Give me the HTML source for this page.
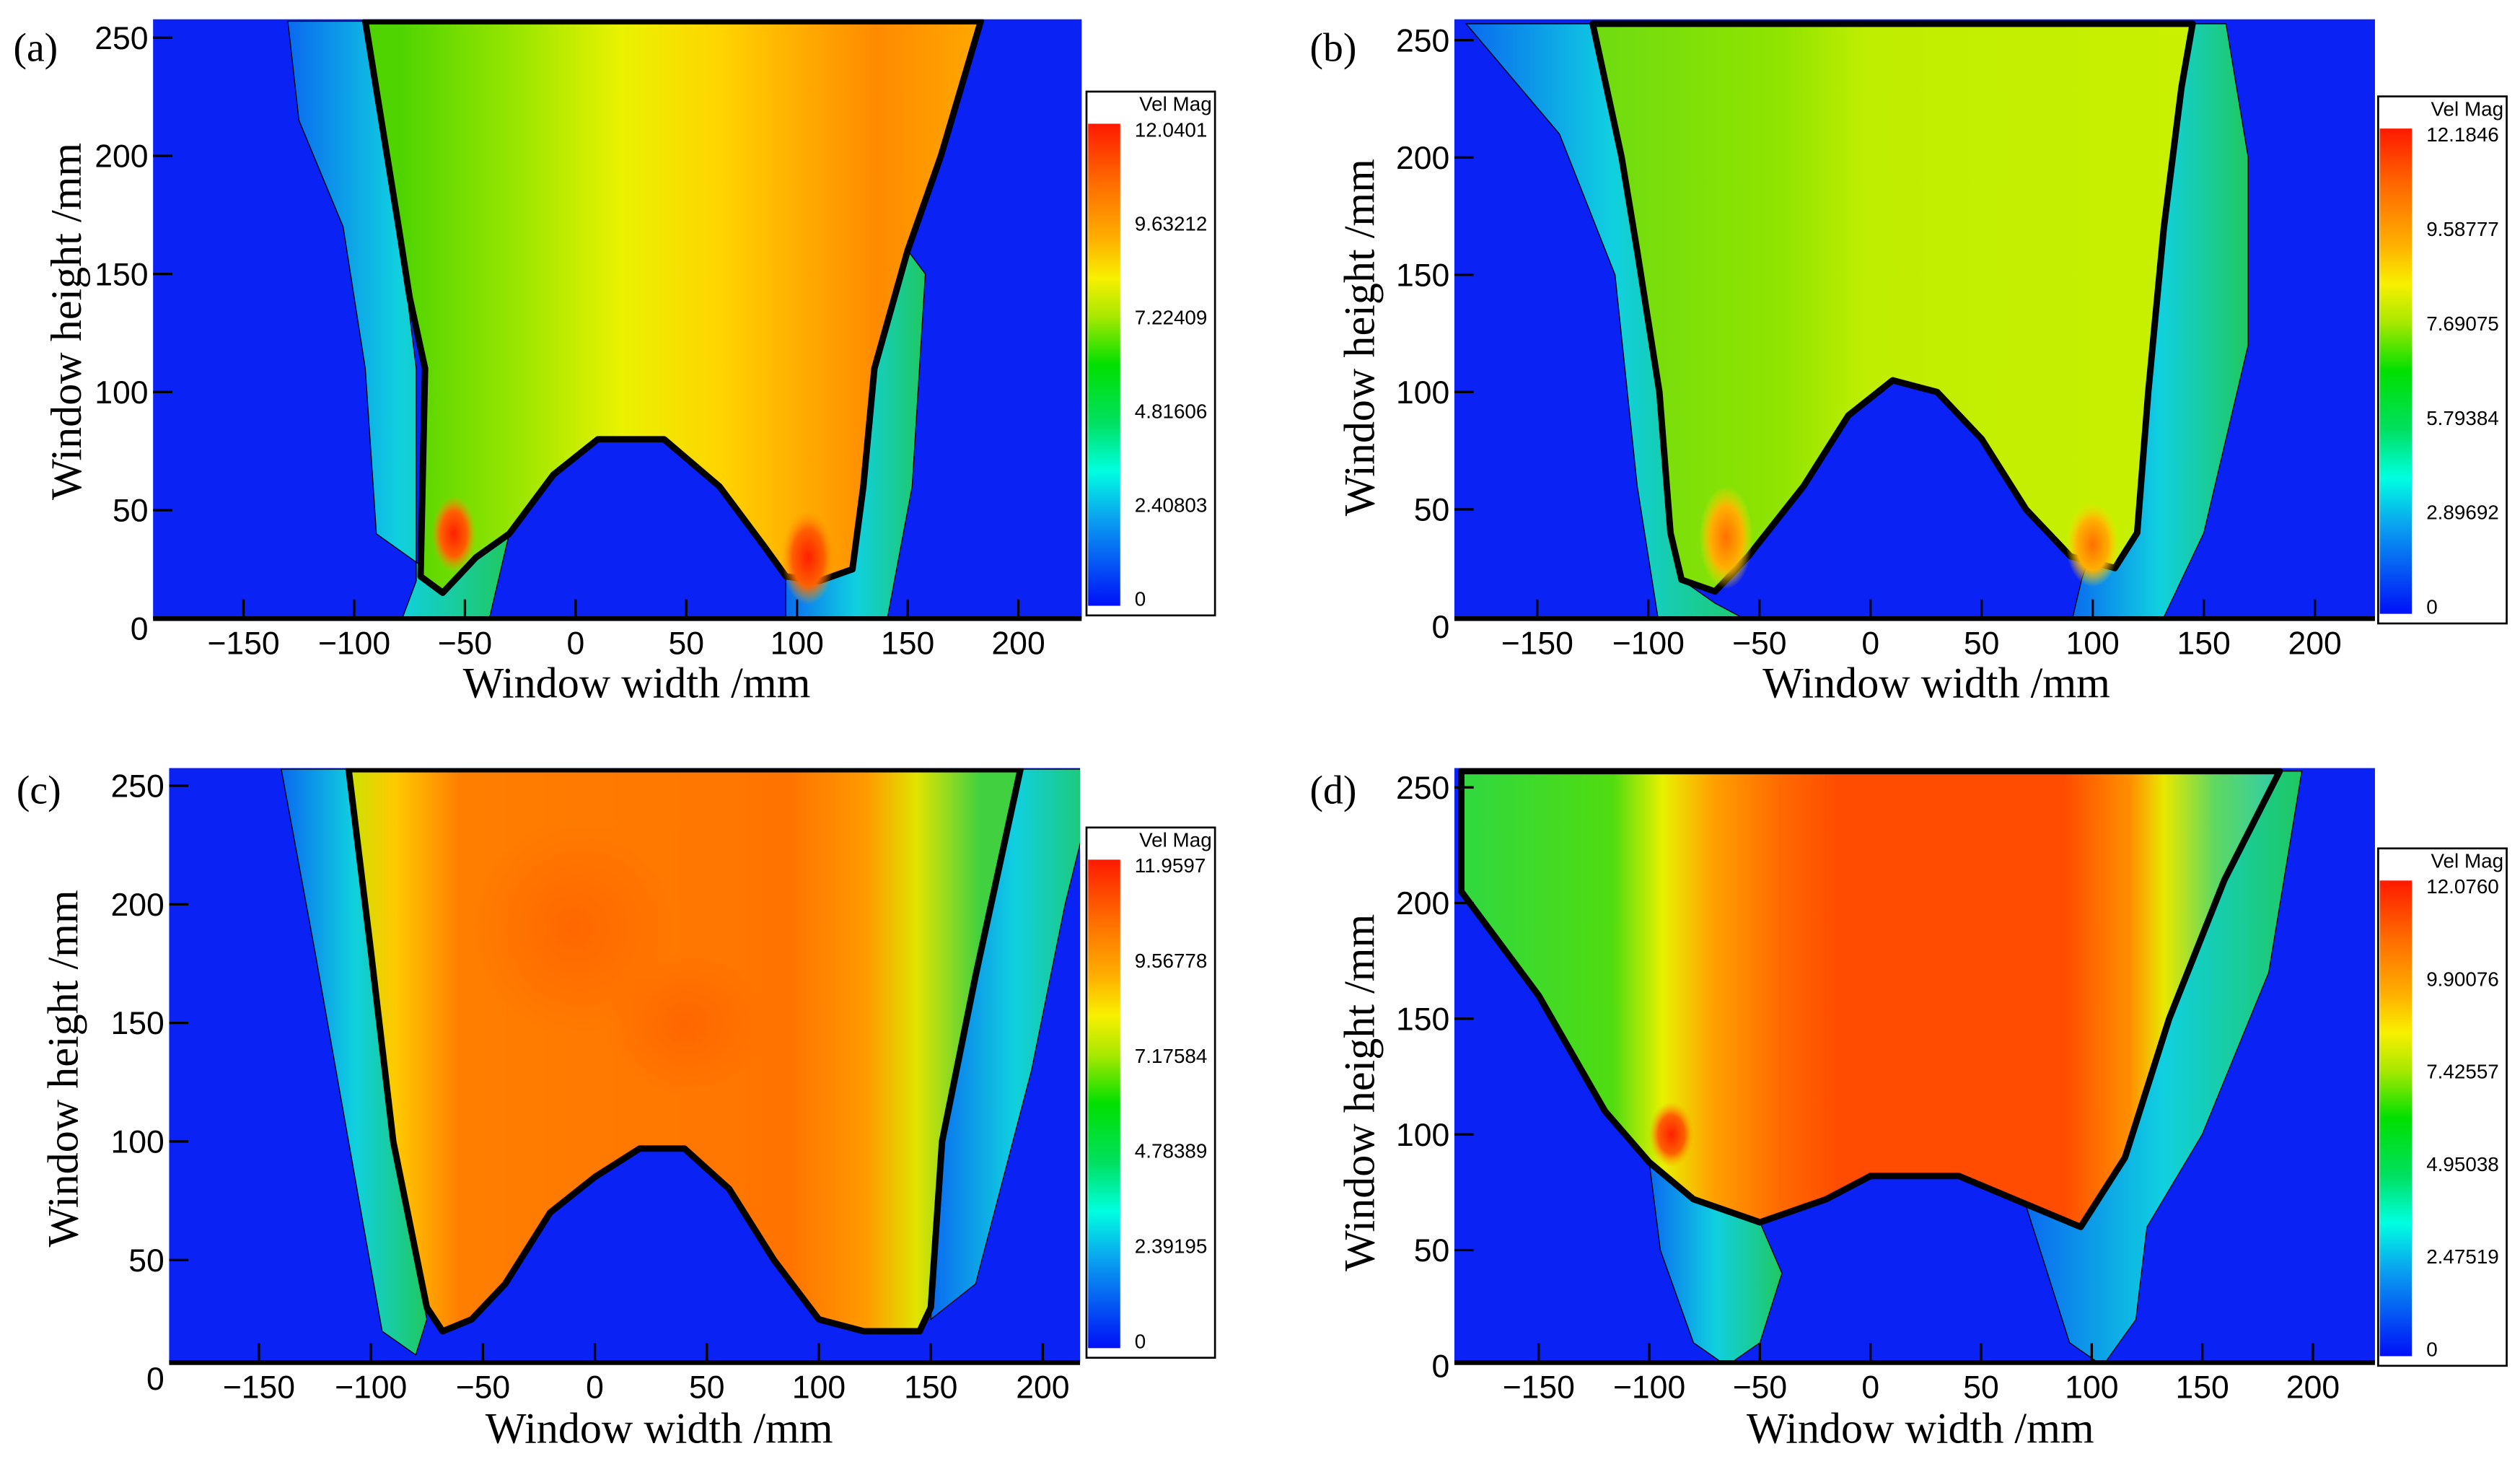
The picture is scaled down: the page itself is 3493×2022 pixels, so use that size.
<!DOCTYPE html>
<html><head><meta charset="utf-8">
<style>
html,body{margin:0;padding:0;background:#fff;}
svg{display:block;}
.tk{font-family:"Liberation Sans",sans-serif;font-size:20px;fill:#000;}
.ax{font-family:"Liberation Serif",serif;font-size:27px;fill:#000;}
.pl{font-family:"Liberation Serif",serif;font-size:25px;fill:#000;}
.cb{font-family:"Liberation Sans",sans-serif;font-size:12.5px;fill:#000;}
</style></head>
<body>
<svg id="fig" width="3493" height="2022" viewBox="0 0 1568 908" xmlns="http://www.w3.org/2000/svg">
<defs>
<linearGradient id="cbg" x1="0" y1="0" x2="0" y2="1">
<stop offset="0" stop-color="#ff1a00"/><stop offset="0.12" stop-color="#ff6a00"/><stop offset="0.24" stop-color="#ffb000"/>
<stop offset="0.32" stop-color="#f8f000"/><stop offset="0.4" stop-color="#a8e800"/><stop offset="0.5" stop-color="#00e000"/>
<stop offset="0.62" stop-color="#00e060"/><stop offset="0.72" stop-color="#00ffe0"/><stop offset="0.82" stop-color="#0aa0f0"/>
<stop offset="1" stop-color="#0010f8"/></linearGradient>
<linearGradient id="ga" gradientUnits="userSpaceOnUse" x1="250" y1="0" x2="610" y2="0">
<stop offset="0" stop-color="#50d400"/><stop offset="0.2" stop-color="#9ae600"/><stop offset="0.38" stop-color="#eaf200"/>
<stop offset="0.55" stop-color="#ffd400"/><stop offset="0.7" stop-color="#ffaa00"/><stop offset="0.82" stop-color="#ff8a00"/><stop offset="1" stop-color="#ffa800"/></linearGradient>
<linearGradient id="gb" gradientUnits="userSpaceOnUse" x1="1000" y1="0" x2="1360" y2="0">
<stop offset="0" stop-color="#70dc10"/><stop offset="0.3" stop-color="#90e400"/><stop offset="0.45" stop-color="#c0ee00"/><stop offset="1" stop-color="#c8f000"/></linearGradient>
<linearGradient id="gc" gradientUnits="userSpaceOnUse" x1="215" y1="0" x2="610" y2="0">
<stop offset="0" stop-color="#c8e400"/><stop offset="0.08" stop-color="#ffc800"/><stop offset="0.18" stop-color="#ff7e00"/>
<stop offset="0.7" stop-color="#ff7400"/><stop offset="0.82" stop-color="#ff9a00"/><stop offset="0.9" stop-color="#e0e400"/><stop offset="1" stop-color="#40d040"/></linearGradient>
<linearGradient id="gd" gradientUnits="userSpaceOnUse" x1="910" y1="0" x2="1430" y2="0">
<stop offset="0" stop-color="#30d840"/><stop offset="0.18" stop-color="#50dc10"/><stop offset="0.24" stop-color="#e8f000"/>
<stop offset="0.3" stop-color="#ffa000"/><stop offset="0.38" stop-color="#ff6a00"/><stop offset="0.45" stop-color="#ff4c00"/>
<stop offset="0.72" stop-color="#ff4c00"/><stop offset="0.8" stop-color="#ff9000"/><stop offset="0.84" stop-color="#e8e800"/>
<stop offset="0.9" stop-color="#60d860"/><stop offset="1" stop-color="#20c8c0"/></linearGradient>
<linearGradient id="halo" gradientUnits="objectBoundingBox" x1="0" y1="0" x2="1" y2="0">
<stop offset="0" stop-color="#0a6af0"/><stop offset="0.5" stop-color="#10d0e0"/><stop offset="1" stop-color="#20c860"/></linearGradient>
<radialGradient id="redb"><stop offset="0" stop-color="#ff2000"/><stop offset="0.6" stop-color="#ff6000"/><stop offset="1" stop-color="#ff9a00" stop-opacity="0"/></radialGradient>
<radialGradient id="orb"><stop offset="0" stop-color="#ff7000"/><stop offset="0.6" stop-color="#ffb000"/><stop offset="1" stop-color="#ffe000" stop-opacity="0"/></radialGradient>
<radialGradient id="softr"><stop offset="0" stop-color="#ff5a00" stop-opacity="0.6"/><stop offset="1" stop-color="#ff5a00" stop-opacity="0"/></radialGradient>
</defs>
<g id="root"></g>
</svg>
<script>
// ---- data ----
const xTicks = [-150,-100,-50,0,50,100,150,200];
const yTicks = [0,50,100,150,200,250];
const panelLabels = ["(a)","(b)","(c)","(d)"];
const cbTicksA = ["12.0401","9.63212","7.22409","4.81606","2.40803","0"];
const cbTicksB = ["12.1846","9.58777","7.69075","5.79384","2.89692","0"];
const cbTicksC = ["11.9597","9.56778","7.17584","4.78389","2.39195","0"];
const cbTicksD = ["12.0760","9.90076","7.42557","4.95038","2.47519","0"];
const jetA = [[-95,257],[-80,170],[-75,140],[-68,110],[-70,22],[-60,15],[-45,30],[-30,40],[-10,65],[10,80],[40,80],[65,60],[85,35],[95,22],[110,20],[125,25],[130,60],[135,110],[150,160],[165,200],[183,257]];
const haloA = [[-130,257],[-95,257],[-80,170],[-72,110],[-72,20],[-80,0],[-40,0],[-30,40],[-60,20],[-90,40],[-95,110],[-105,170],[-125,215]];
const haloA2 = [[95,22],[110,20],[125,25],[130,60],[135,110],[150,160],[158,150],[152,60],[140,0],[95,0]];
const jetB = [[-125,257],[-112,200],[-105,160],[-95,100],[-90,40],[-85,20],[-70,15],[-55,30],[-30,60],[-10,90],[10,105],[30,100],[50,80],[70,50],[90,30],[110,25],[120,40],[125,100],[132,170],[140,230],[145,257]];
const haloB = [[-182,257],[-125,257],[-112,200],[-105,160],[-95,100],[-90,40],[-85,20],[-70,10],[-50,0],[-95,0],[-105,60],[-115,150],[-140,210]];
const haloB2 = [[125,100],[132,170],[140,230],[145,257],[160,257],[170,200],[170,120],[150,40],[130,0],[90,0],[95,20]];
const jetC = [[-110,257],[-100,180],[-90,100],[-75,30],[-68,20],[-55,25],[-40,40],[-20,70],[0,85],[20,97],[40,97],[60,80],[80,50],[100,25],[120,20],[145,20],[150,30],[155,100],[170,170],[190,257]];
const haloC = [[-140,257],[-110,257],[-100,180],[-90,100],[-75,25],[-80,10],[-95,20],[-110,100],[-125,180]];
const haloC2 = [[190,257],[225,257],[210,200],[195,130],[170,40],[150,25],[155,100],[170,170]];
const jetD = [[-185,257],[-185,205],[-150,160],[-120,110],[-100,88],[-80,72],[-50,62],[-20,72],[0,82],[40,82],[70,70],[95,60],[115,90],[135,150],[160,210],[185,257]];
const haloD = [[-100,88],[-80,72],[-50,62],[-40,40],[-50,10],[-65,0],[-80,10],[-95,50]];
const haloD2 = [[70,70],[95,60],[115,90],[135,150],[160,210],[185,257],[195,257],[180,170],[150,100],[125,60],[120,20],[105,0],[90,10],[80,40]];
const blobsA = [[-55,40,10,16],[105,30,12,20]];
const blobsB = [[-65,38,12,22],[100,35,12,18]];
const blobsC = [[-10,190,45,45],[40,150,35,30]];
const blobsD = [[-90,100,10,14]];
// ---- layout ----
const panels = [
 {rect:[95,12,578,373], x0:358, sx:1.378, y0:391, sy:1.47, grad:"ga", jet:jetA, halos:[haloA,haloA2], blobs:blobsA, blob:"redb", cb:[676,57,80,326], cbt:cbTicksA, lab:[8,38], ylab:[50,200], xlab:[396,434]},
 {rect:[905,12,573,373], x0:1164, sx:1.383, y0:390, sy:1.46, grad:"gb", jet:jetB, halos:[haloB,haloB2], blobs:blobsB, blob:"orb", cb:[1480,60,80,328], cbt:cbTicksB, lab:[815,38], ylab:[855,210], xlab:[1205,434]},
 {rect:[105,478,567,370], x0:370, sx:1.394, y0:858, sy:1.476, grad:"gc", jet:jetC, halos:[haloC,haloC2], blobs:blobsC, blob:"softr", cb:[676,515,80,330], cbt:cbTicksC, lab:[10,500], ylab:[48,665], xlab:[410,898]},
 {rect:[905,478,573,370], x0:1164, sx:1.377, y0:850, sy:1.44, grad:"gd", jet:jetD, halos:[haloD,haloD2], blobs:blobsD, blob:"redb", cb:[1480,528,80,322], cbt:cbTicksD, lab:[815,500], ylab:[855,680], xlab:[1195,898]}
];
const NS="http://www.w3.org/2000/svg";
const root=document.getElementById('root');
function mk(tag,attrs,parent){const e=document.createElementNS(NS,tag);for(const k in attrs)e.setAttribute(k,attrs[k]);(parent||root).appendChild(e);return e;}
panels.forEach((p,i)=>{
 const X=v=>p.x0+v*p.sx, Y=v=>p.y0-v*p.sy;
 const g=mk('g',{});
 
 
 const cid='clip'+i;
 const cp=mk('clipPath',{id:cid},g);mk('rect',{x:p.rect[0],y:p.rect[1],width:p.rect[2],height:p.rect[3]},cp);
 const bg=mk('rect',{x:p.rect[0],y:p.rect[1],width:p.rect[2],height:p.rect[3],fill:'#0b22f4'},g);
 
 
 const pg=mk('g',{'clip-path':'url(#'+cid+')'},g);
 const pts=a=>a.map(q=>X(q[0]).toFixed(1)+','+Y(q[1]).toFixed(1)).join(' ');
 p.halos.forEach(h=>{const e=mk('polygon',{points:pts(h),fill:'url(#halo)',stroke:'#000','stroke-width':0.6},pg);
  
  });
 const jet=mk('polygon',{points:pts(p.jet),fill:'url(#'+p.grad+')',stroke:'#000','stroke-width':4,'stroke-linejoin':'round'},pg);
 
 
 p.blobs.forEach(b=>{const e=mk('ellipse',{cx:X(b[0]),cy:Y(b[1]),rx:b[2]*p.sx,ry:b[3]*p.sy,fill:'url(#'+p.blob+')'},pg);
  
  });
 // axes
 const by=p.rect[1]+p.rect[3];
 mk('line',{x1:p.rect[0],y1:by,x2:p.rect[0]+p.rect[2],y2:by,stroke:'#000','stroke-width':3},g);
 xTicks.forEach(v=>{
  mk('line',{x1:X(v),y1:by,x2:X(v),y2:by-12,stroke:'#000','stroke-width':1.5},g);
  const t=mk('text',{x:X(v),y:by+22,'text-anchor':'middle',class:'tk'},g);t.textContent=(v<0?'\u2212'+(-v):v);
  
  
 });
 yTicks.forEach(v=>{
  if(Y(v)>p.rect[1]-2 && Y(v)<by) mk('line',{x1:p.rect[0],y1:Y(v),x2:p.rect[0]+12,y2:Y(v),stroke:'#000','stroke-width':1.5},g);
  const t=mk('text',{x:p.rect[0]-3,y:Y(v)+7,'text-anchor':'end',class:'tk'},g);t.textContent=v;
  
  
 });
 const xl=mk('text',{x:p.xlab[0],y:p.xlab[1],'text-anchor':'middle',class:'ax'},g);xl.textContent='Window width /mm';
 
 
 const yl=mk('text',{x:0,y:0,'text-anchor':'middle',class:'ax',transform:'translate('+p.ylab[0]+','+p.ylab[1]+') rotate(-90)'},g);yl.textContent='Window height /mm';
 
 
 const pl=mk('text',{x:p.lab[0],y:p.lab[1],class:'pl'},g);pl.textContent=panelLabels[i];
 
 
 // colorbar
 const c=p.cb;
 const cbg=mk('g',{},g);
 
 
 mk('rect',{x:c[0],y:c[1],width:c[2],height:c[3],fill:'#fff',stroke:'#000','stroke-width':1.2},cbg);
 const st=c[1]+20, sb=c[1]+c[3]-6;
 mk('rect',{x:c[0]+1,y:st,width:20,height:sb-st,fill:'url(#cbg)'},cbg);
 const tt=mk('text',{x:c[0]+c[2]-2,y:c[1]+12,'text-anchor':'end',class:'cb'},cbg);tt.textContent='Vel Mag';
 p.cbt.forEach((s,j)=>{const t=mk('text',{x:c[0]+30,y:st+8+j*(sb-st-8)/5,class:'cb'},cbg);t.textContent=s;
  
  });
});
</script>
</body></html>
